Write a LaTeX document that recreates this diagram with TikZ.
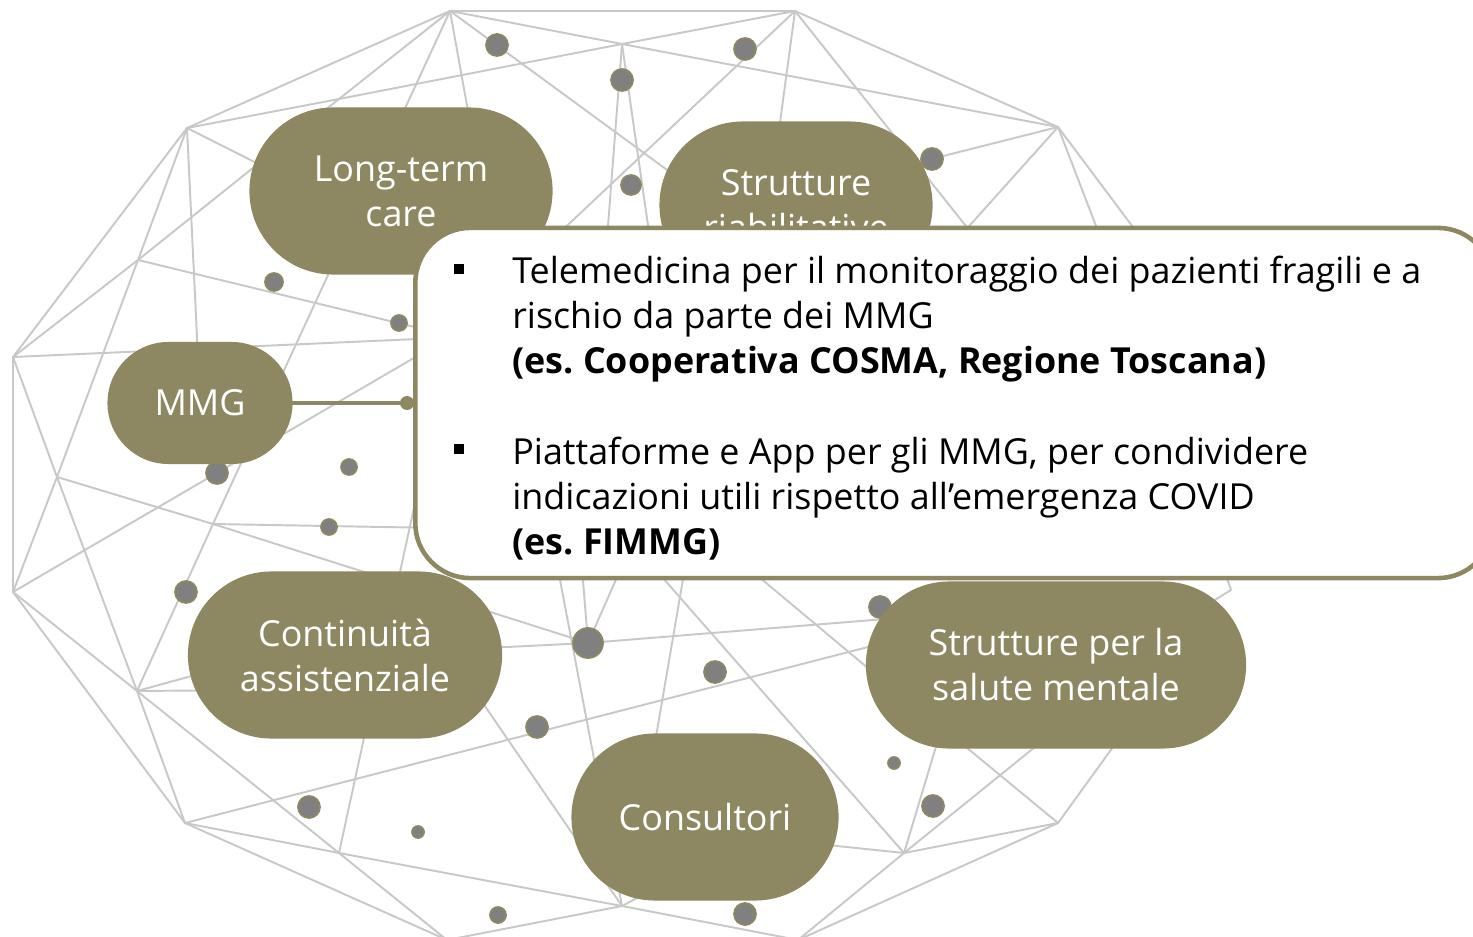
\documentclass[tikz,border=0pt]{standalone}
\usepackage{fontspec}
\setmainfont{Open Sans}
\definecolor{olive}{RGB}{141,136,97}
\definecolor{webgray}{RGB}{200,200,200}
\definecolor{dotgray}{RGB}{128,128,128}
\newcommand{\bul}{\raisebox{2.8pt}{\rule{2.8pt}{2.8pt}}}
\frenchspacing

\begin{document}
\begin{tikzpicture}[x=0.01cm,y=-0.01cm,line join=round,line cap=round,
    font=\fontsize{10.2pt}{12.8pt}\selectfont,
    web/.style={webgray,line width=0.55pt},
    knot/.style={fill=dotgray,draw=olive,line width=0.5pt},
    pill/.style={fill=olive,text=white,align=center,inner sep=0pt,minimum height=1.67cm,rounded corners=0.835cm},
    callout/.style={draw=olive,fill=white,line width=1.3pt,rounded corners=0.55cm,inner sep=0pt}]
\useasboundingbox (0,0) rectangle (1473,937);
\clip (0,0) rectangle (1473,937);

% wireframe vertices
\coordinate (A) at (450,11);   \coordinate (T) at (795,11);
\coordinate (B) at (622,44);   \coordinate (D) at (339,99);
\coordinate (C) at (187,128);  \coordinate (G) at (1058,127);
\coordinate (E) at (138,260);  \coordinate (F) at (13,357);
\coordinate (H) at (57,477);   \coordinate (J) at (213,524);
\coordinate (I) at (13,592);   \coordinate (K) at (137,691);
\coordinate (L) at (185,823);  \coordinate (M) at (339,853);
\coordinate (O) at (447,940);  \coordinate (N) at (622,906);
\coordinate (R) at (798,940);  \coordinate (Q) at (904,853);
\coordinate (P) at (1058,823); \coordinate (S) at (1231,590);
\coordinate (Z) at (588,643);
% ends hidden under the boxes
\coordinate (h1) at (520,400);  \coordinate (h2) at (451,335);
\coordinate (h3) at (600,330);  \coordinate (h4) at (663,330);
\coordinate (h5) at (715,205);  \coordinate (h6) at (775,160);
\coordinate (h7) at (1120,420); \coordinate (h8) at (880,172);
\coordinate (h9) at (876,330);  \coordinate (h10) at (1136,330);
\coordinate (h11) at (1210,330);\coordinate (h12) at (330,200);
\coordinate (h13) at (200,400); \coordinate (h14) at (440,338);
\coordinate (h15) at (460,338); \coordinate (h16) at (460,331);
\coordinate (h17) at (440,528); \coordinate (h18) at (420,480);
\coordinate (h19) at (345,655); \coordinate (h20) at (960,613);
\coordinate (h21) at (660,480); \coordinate (h22) at (575,480);
\coordinate (h23) at (541,480); \coordinate (h24) at (700,480);
\coordinate (h25) at (640,830); \coordinate (h26) at (577,480);
\coordinate (h27) at (643,480); \coordinate (h28) at (930,720);
\coordinate (h29) at (1000,613);\coordinate (h30) at (430,626);
\coordinate (h31) at (250,660); \coordinate (h32) at (260,690);
\coordinate (h33) at (950,700); \coordinate (h34) at (1093,700);
\coordinate (h35) at (909,700); \coordinate (h36) at (1147,700);
\coordinate (h37) at (780,840); \coordinate (h38) at (690,870);
\coordinate (h39) at (1150,640);\coordinate (h40) at (1200,500);

\foreach \a/\b in {A/T,A/B,B/G,T/B,B/D,D/C,A/C,A/D,D/E,E/F,A/J,T/G,C/E,E/H,H/I,
    F/I,F/H,F/C,H/J,H/K,I/K,I/L,K/J,K/L,K/M,L/M,L/O,M/O,M/N,O/N,N/R,R/Q,R/P,Q/P,J/Z,
    A/h1,T/h2,B/h3,B/h4,A/h5,T/h6,T/h7,G/h8,G/h9,G/h10,G/h11,C/h12,C/h13,F/h14,
    E/h15,I/h16,J/h17,M/h18,Z/h19,Z/h20,Z/h21,Z/h22,N/h23,h24/h25,Q/h26,h27/h28,
    L/h29,N/h30,K/h31,K/h32,Q/h33,Q/h34,P/h35,P/h36,Q/h37,N/h38,S/h39,S/h40}
    \draw[web] (\a) -- (\b);

\foreach \x/\y/\r in {497/45/11,622/80/11,745/49/11,631/185/10,932/159/11,274/282/9,
    399/323/8,217/473/11,349/467/8,329/527/8,186/592/11,588/643/15,715/672/11,
    537/727/11,880/607/11,894/763/6,933/806/11,309/807/11,418/832/6,498/915/8,745/914/11}
    \draw[knot] (\x,\y) circle[radius=\r];

\node[pill,minimum width=3.03cm] (lt) at (401,191) {Long-term\\care};
\node[pill,minimum width=2.73cm] (sr) at (796,205) {Strutture\\riabilitative};
\node[pill,minimum width=1.85cm,minimum height=1.22cm,rounded corners=0.61cm] (mmg) at (200,403) {MMG};
\node[pill,minimum width=3.14cm] (ct) at (345,655) {Continuità\\assistenziale};
\node[pill,minimum width=2.67cm] (co) at (705,817) {Consultori};
\node[pill,minimum width=3.80cm] (sm) at (1056,665) {Strutture per la\\salute mentale};

\node[callout,minimum width=10.77cm,minimum height=3.5cm,anchor=west] (box) at (413,403) {%
  \vbox{\kern0.14cm\hbox{%
  \begin{tabular}{@{}p{0.58cm}@{}p{9.41cm}@{}}
  \bul & \raggedright Telemedicina per il monitoraggio dei pazienti fragili e a\newline
    rischio da parte dei MMG\newline
    \textbf{(es. Cooperativa COSMA, Regione Toscana)}\tabularnewline[12.8pt]
  \bul & \raggedright Piattaforme e App per gli MMG, per condividere\newline
    indicazioni utili rispetto all’emergenza COVID\newline
    \textbf{(es. FIMMG)}
  \end{tabular}}}};

\coordinate (tip) at ([xshift=-0.06cm]box.west);
\draw[olive,line width=1.3pt] (mmg.east) -- (tip);
\fill[olive] (tip) circle[radius=7];
\end{tikzpicture}
\end{document}
